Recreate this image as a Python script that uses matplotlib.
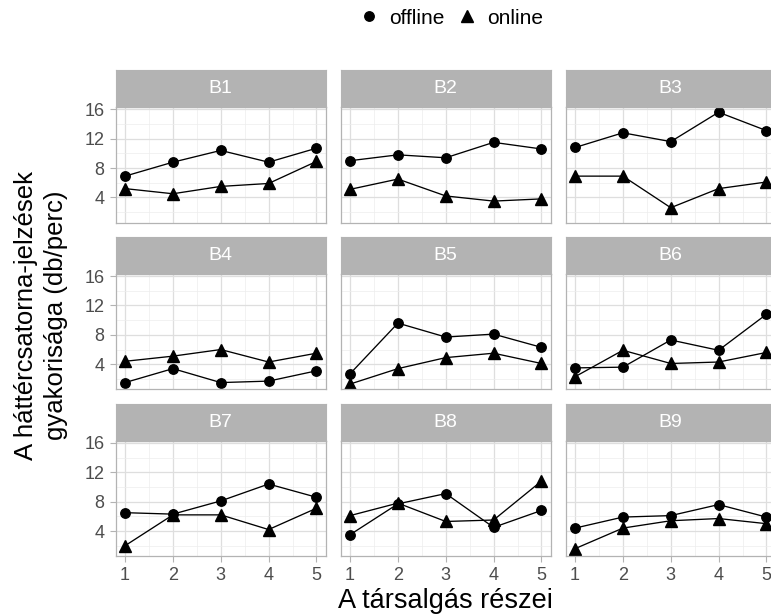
import matplotlib
matplotlib.use("Agg")
import matplotlib.pyplot as plt
from matplotlib.lines import Line2D
import numpy as np

plt.rcParams['font.family'] = ['Liberation Sans', 'DejaVu Sans']

# ---- data ----
panels = ["B1", "B2", "B3", "B4", "B5", "B6", "B7", "B8", "B9"]
parts = [1, 2, 3, 4, 5]
offline = {
    "B1": [6.9, 8.8, 10.4, 8.8, 10.7],
    "B2": [9.0, 9.8, 9.4, 11.5, 10.6],
    "B3": [10.8, 12.8, 11.6, 15.6, 13.1],
    "B4": [1.5, 3.4, 1.5, 1.7, 3.1],
    "B5": [2.7, 9.6, 7.7, 8.1, 6.3],
    "B6": [3.5, 3.6, 7.3, 5.9, 10.8],
    "B7": [6.5, 6.3, 8.1, 10.4, 8.6],
    "B8": [3.5, 7.7, 9.1, 4.5, 6.8],
    "B9": [4.4, 5.9, 6.1, 7.6, 5.9],
}
online = {
    "B1": [5.2, 4.5, 5.5, 5.9, 8.9],
    "B2": [5.1, 6.5, 4.2, 3.5, 3.8],
    "B3": [6.9, 6.9, 2.6, 5.2, 6.1],
    "B4": [4.4, 5.1, 6.0, 4.3, 5.5],
    "B5": [1.3, 3.4, 4.9, 5.5, 4.1],
    "B6": [2.3, 5.9, 4.1, 4.3, 5.6],
    "B7": [2.0, 6.2, 6.2, 4.2, 7.1],
    "B8": [6.1, 7.8, 5.3, 5.5, 10.8],
    "B9": [1.6, 4.4, 5.4, 5.7, 5.0],
}
y_ticks = [4, 8, 12, 16]
x_label = "A társalgás részei"
y_label = "A háttércsatorna-jelzések\ngyakorisága (db/perc)"

W, H = 771, 614
fig = plt.figure(figsize=(W / 100, H / 100), dpi=100)

col_left = [115.5, 340.5, 565.5]
pw = 210.5
panel_top = [107.0, 273.8, 440.6]
ph = 115.5
sh = 37.0

all_vals = [v for d in (offline, online) for k in d for v in d[k]]
ymin, ymax = min(all_vals), max(all_vals)
yr = ymax - ymin
ylim = (ymin - 0.05 * yr, ymax + 0.05 * yr)

border = '#B3B3B3'
tick_col = '#4D4D4D'
MS_C, MS_T = 6.8, 8.0

for i, name in enumerate(panels):
    r, c = divmod(i, 3)
    left = col_left[c]
    top = panel_top[r]
    ax = fig.add_axes([left / W, 1 - (top + ph) / H, pw / W, ph / H])
    ax.set_xlim(0.8, 5.2)
    ax.set_ylim(*ylim)
    ax.set_yticks(y_ticks)
    ax.set_xticks(parts)
    ax.set_yticks([2, 6, 10, 14], minor=True)
    ax.set_xticks([1.5, 2.5, 3.5, 4.5], minor=True)
    ax.grid(which='major', color='#DEDEDE', linewidth=0.9)
    ax.grid(which='minor', color='#EDEDED', linewidth=0.5)
    ax.set_axisbelow(True)
    for s in ax.spines.values():
        s.set_color(border)
        s.set_linewidth(0.9)
    ax.tick_params(which='minor', length=0)
    ax.tick_params(which='major', color=border, length=4.5, width=0.8,
                   labelcolor=tick_col, labelsize=13, pad=3.5)
    if c != 0:
        ax.tick_params(axis='y', length=0, labelleft=False)
    if r != 2:
        ax.tick_params(axis='x', length=0, labelbottom=False)
    ax.plot(parts, offline[name], color='black', lw=0.95, marker='o', ms=MS_C)
    ax.plot(parts, online[name], color='black', lw=0.95, marker='^', ms=MS_T)
    # strip
    sax = fig.add_axes([left / W, 1 - top / H, pw / W, sh / H])
    sax.set_xticks([]); sax.set_yticks([])
    sax.set_facecolor('#B3B3B3')
    for s in sax.spines.values():
        s.set_color('#B3B3B3')
    sax.text(0.5, 0.5, name, color='white', fontsize=14,
             ha='center', va='center', transform=sax.transAxes)

fig.text(445 / W, 1 - 601 / H, x_label, fontsize=19.5, ha='center', va='center')
fig.text(41 / W, 1 - 315 / H, y_label, fontsize=18.5, ha='center', va='center',
         rotation=90, linespacing=1.3)

handles = [Line2D([], [], color='black', marker='o', ls='none', ms=MS_C),
           Line2D([], [], color='black', marker='^', ls='none', ms=MS_T)]
fig.legend(handles, ['offline', 'online'], loc='center',
           bbox_to_anchor=(452 / W, 1 - 18 / H), ncol=2, frameon=False,
           fontsize=15, handlelength=0.8, handletextpad=0.56,
           columnspacing=0.66)

fig.savefig('out.png', dpi=100)
